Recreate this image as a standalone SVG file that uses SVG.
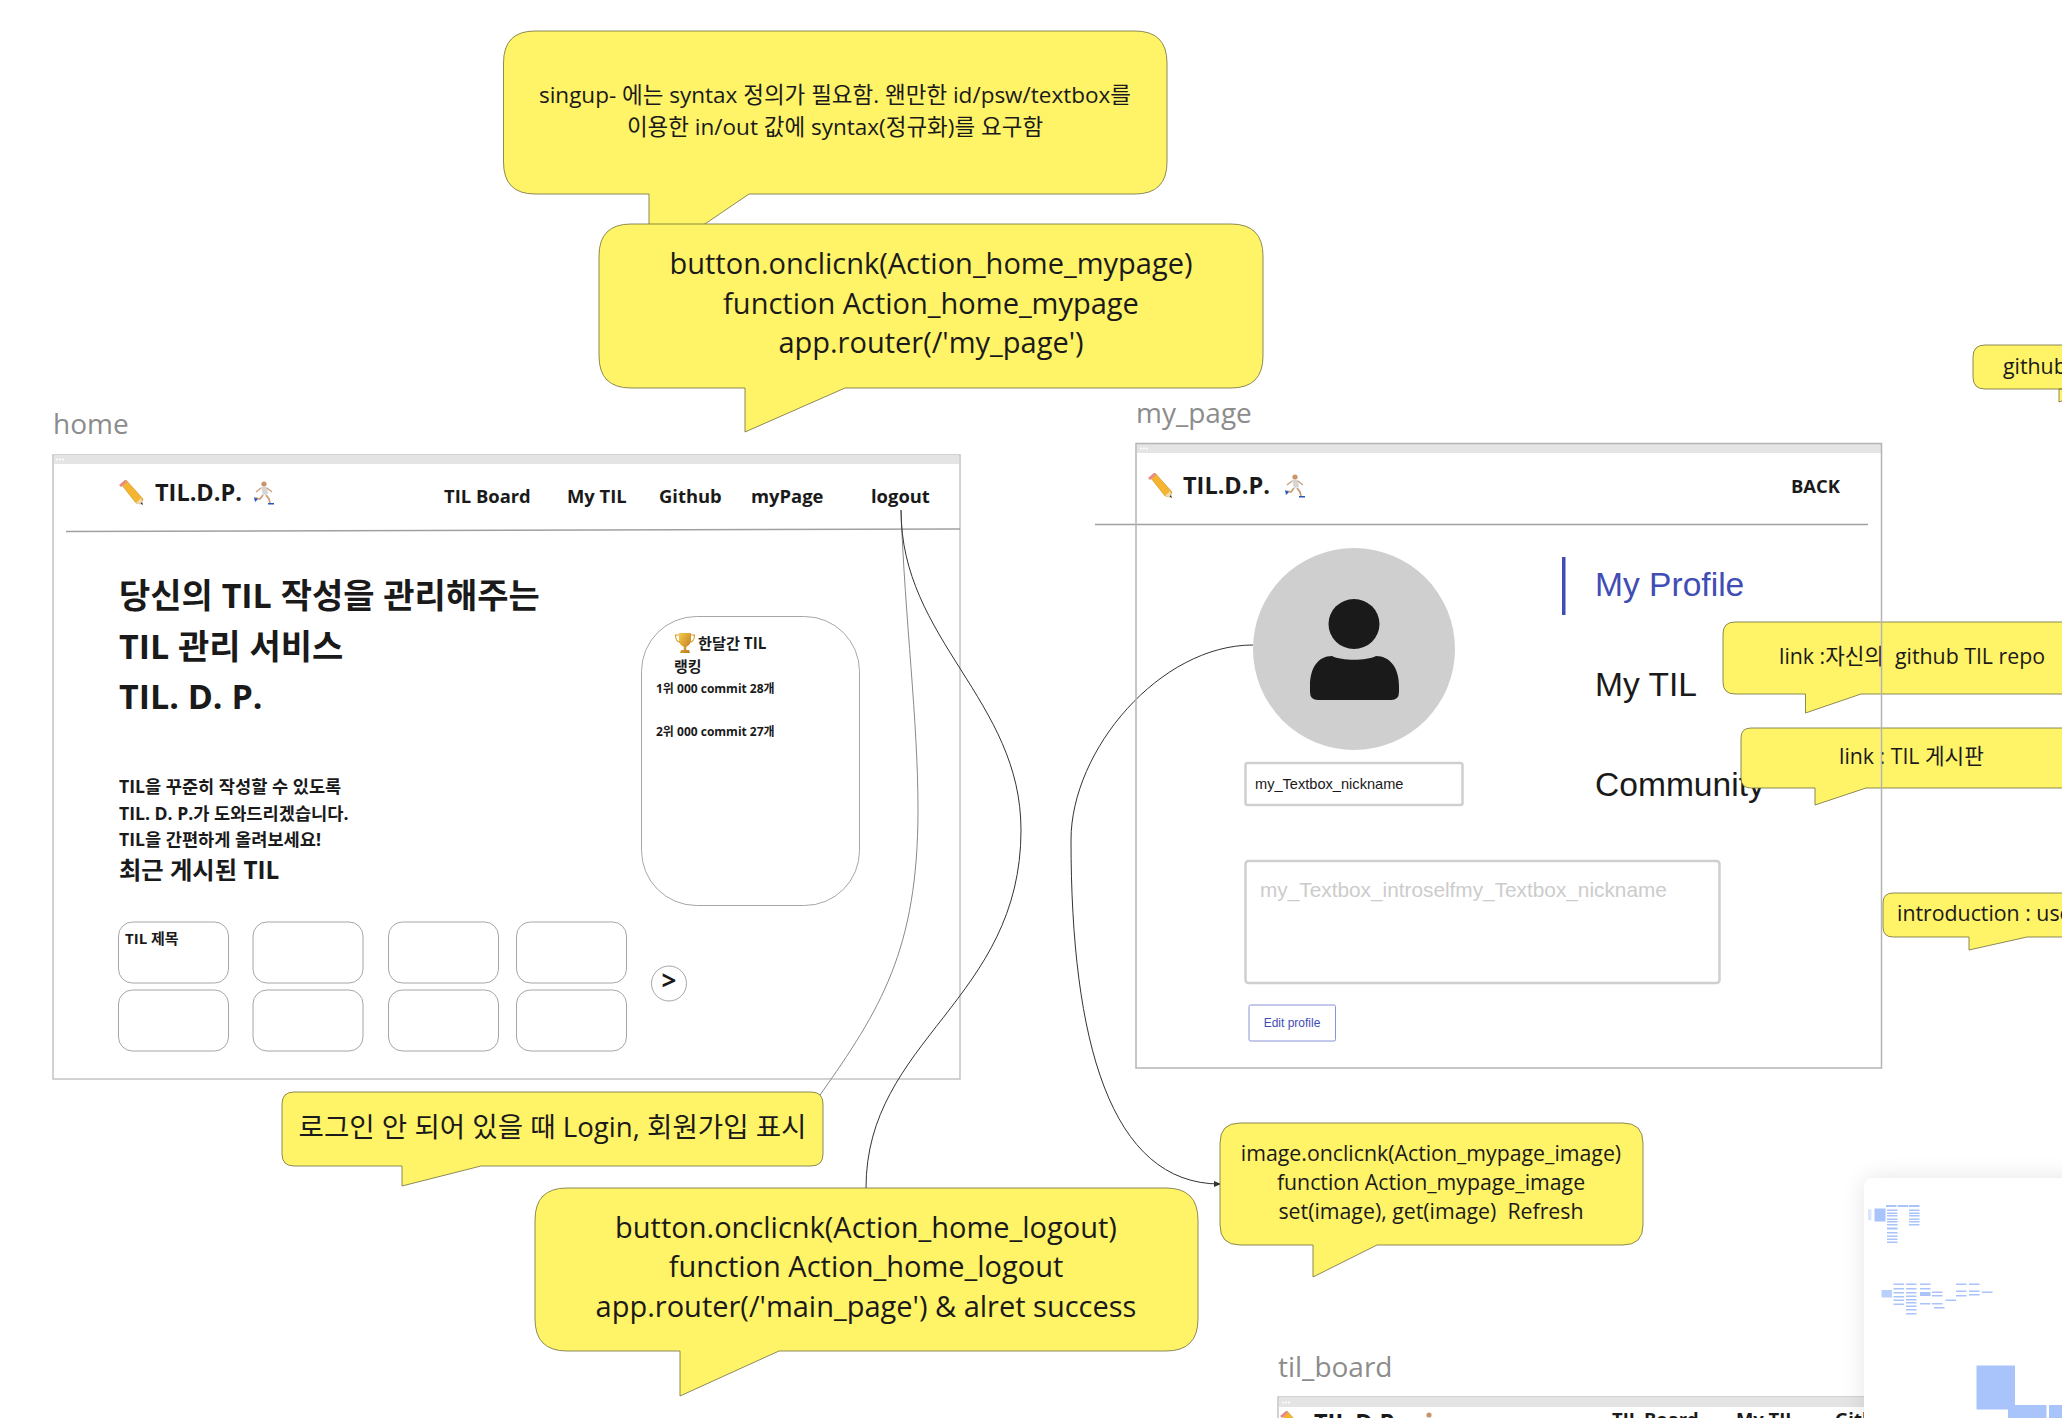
<svg xmlns="http://www.w3.org/2000/svg" width="2062" height="1418" viewBox="0 0 2062 1418">
<style>
text{font-family:"Open Sans","Noto Sans CJK KR",sans-serif;fill:#1a1a1a}
.lab{font-size:28px;fill:#8c8c8c}
.frame{fill:#fff;stroke:#c4c4c4;stroke-width:1.5}
.edge{fill:none;stroke:#b4b4b4;stroke-width:1.5}
.bar{fill:#e4e4e4}
.dot{fill:#fff}
.hl{stroke:#a0a0a0;stroke-width:1.5}
.logo{font-size:23.5px;font-weight:700}
.nav{font-size:18.4px;font-weight:700}
.card{fill:#fff;stroke:#8f8f8f;stroke-width:.8}
.call{fill:#fff368;stroke:#6f6d3c;stroke-width:.8}
.c30{font-size:29px;text-anchor:middle}
.c23{font-size:22.500px;text-anchor:middle}
.c22{font-size:21.300px}
.sub{font-size:17.600px;font-weight:700}
.h1{font-size:34px;font-weight:700}
.rk{font-size:12px;font-weight:700}
.arial{font-family:"Liberation Sans","Noto Sans CJK KR",sans-serif}
.menu{font-size:33.600px;font-family:"Liberation Sans",sans-serif}
.input{fill:#fff;stroke:#cfcfcf;stroke-width:2.500}
.conn{fill:none;stroke:#333;stroke-width:1}
.conn2{fill:none;stroke:#8a8a8a;stroke-width:1}
.m{fill:#a9c4fb}
.mb{fill:#d9e5fd}
</style>
<defs>
<marker id="arr" markerWidth="7" markerHeight="6" refX="6" refY="3" orient="auto" markerUnits="userSpaceOnUse"><path d="M0 0L7 3L0 6z" fill="#333"/></marker>
<filter id="sh" x="-20%" y="-20%" width="140%" height="140%"><feGaussianBlur stdDeviation="12"/></filter>
<linearGradient id="gold" x1="0" y1="0" x2="1" y2="1"><stop offset="0" stop-color="#f7c948"/><stop offset="1" stop-color="#b8741a"/></linearGradient>
<g id="pencil">
<path d="M3 4L8 0L25 19L23 24L18 23z" fill="#f5b52e" stroke="#b5851d" stroke-width=".5"/>
<path d="M1 5L7 0L9 2L3 7z" fill="#e88a8a"/>
<path d="M18 23L23 18L25 25z" fill="#f1d9b0"/>
<path d="M22.5 23.5L24 22L25 25z" fill="#333"/>
</g>
<g id="runner">
<circle cx="11" cy="3" r="2.6" fill="#c9956b"/>
<path d="M8 6L14 6L15 13L10 14z" fill="#d5d5d5"/>
<path d="M10 14L7 18L3 17M13 14L16 18L17 22" fill="none" stroke="#c9a07e" stroke-width="1.8"/>
<path d="M8 7L3 11M14 7L19 11" fill="none" stroke="#c9a07e" stroke-width="1.4"/>
<path d="M1 16L5 18L2 21zM15 22H21V23.5H15z" fill="#2b55b8"/>
</g>
<g id="trophy">
<path d="M4 0H16V7C16 12 12 13 11.2 14V17H14L15 20H5L6 17H8.800V14C8 13 4 12 4 7z" fill="url(#gold)"/>
<path d="M4 2H0.500C0.500 7 3 9 5 9M16 2H19.500C19.500 7 17 9 15 9" fill="none" stroke="#d69a2a" stroke-width="1.200"/>
</g>
</defs>

<rect width="2062" height="1418" fill="#fff"/>

<g id="label-home"><text class="lab" x="53" y="434">home</text></g>
<g id="label-my_page"><text class="lab" x="1136" y="423">my_page</text></g>
<g id="label-til_board"><text class="lab" x="1278" y="1377">til_board</text></g>

<g id="home">
<rect class="frame" x="53" y="455" width="907" height="624"/>
<rect class="bar" x="54" y="455" width="905" height="9"/>
<circle class="dot" cx="57" cy="459.500" r="1"/><circle class="dot" cx="60" cy="459.500" r="1"/><circle class="dot" cx="63" cy="459.500" r="1"/>
<path class="hl" d="M66 531.500L960 529"/>
<use href="#pencil" x="118" y="480"/>
<text class="logo" x="155" y="501">TIL.D.P.</text>
<use href="#runner" x="253" y="481"/>
<text class="nav" x="444" y="503">TIL Board</text>
<text class="nav" x="567" y="503">My TIL</text>
<text class="nav" x="659" y="503">Github</text>
<text class="nav" x="751" y="503">myPage</text>
<text class="nav" x="871" y="503">logout</text>
<text class="h1" x="119" y="608">당신의 TIL 작성을 관리해주는</text>
<text class="h1" x="119" y="659">TIL 관리 서비스</text>
<text class="h1" x="119" y="709">TIL. D. P.</text>
<text class="sub" x="119" y="793">TIL을 꾸준히 작성할 수 있도록</text>
<text class="sub" x="119" y="819.500">TIL. D. P.가 도와드리겠습니다.</text>
<text class="sub" x="119" y="846">TIL을 간편하게 올려보세요!</text>
<text x="119" y="879" font-size="24.300" font-weight="700">최근 게시된 TIL</text>
<rect class="card" x="641.500" y="616.500" width="218" height="289" rx="55"/>
<use href="#trophy" x="675" y="633"/>
<text x="698" y="649" font-size="15.200" font-weight="700">한달간 TIL</text>
<text x="674" y="672" font-size="15" font-weight="700">랭킹</text>
<text class="rk" x="656" y="693">1위 000 commit 28개</text>
<text class="rk" x="656" y="736">2위 000 commit 27개</text>
<rect class="card" x="118.500" y="922" width="110" height="61" rx="14"/>
<rect class="card" x="253" y="922" width="110" height="61" rx="14"/>
<rect class="card" x="388.500" y="922" width="110" height="61" rx="14"/>
<rect class="card" x="516.500" y="922" width="110" height="61" rx="14"/>
<rect class="card" x="118.500" y="990" width="110" height="61" rx="14"/>
<rect class="card" x="253" y="990" width="110" height="61" rx="14"/>
<rect class="card" x="388.500" y="990" width="110" height="61" rx="14"/>
<rect class="card" x="516.500" y="990" width="110" height="61" rx="14"/>
<text x="125" y="943.500" font-size="15" font-weight="700">TIL 제목</text>
<circle class="card" cx="669" cy="983.500" r="17.500"/>
<text x="669" y="990" font-size="26" font-weight="700" text-anchor="middle">&gt;</text>
</g>

<g id="my_page">
<rect x="1136" y="443" width="745.500" height="625" fill="#fff"/>
<rect class="bar" x="1137" y="443" width="744" height="10"/>
<circle class="dot" cx="1141" cy="448.500" r="1"/><circle class="dot" cx="1144" cy="448.500" r="1"/><circle class="dot" cx="1147" cy="448.500" r="1"/>
<use href="#pencil" x="1147" y="473"/>
<text class="logo" x="1183" y="494">TIL.D.P.</text>
<use href="#runner" x="1284" y="474"/>
<text class="nav" x="1791" y="493">BACK</text>
<circle cx="1354" cy="649" r="101" fill="#cfcfcf"/>
<ellipse cx="1354" cy="624" rx="25.500" ry="25" fill="#1a1a1a"/>
<path d="M1310 686C1310 668 1318 656 1332 656C1342 661 1366 661 1376 656C1390 656 1399 668 1399 686V692Q1399 700 1391 700H1318Q1310 700 1310 692z" fill="#1a1a1a"/>
<rect class="input" x="1245.500" y="763" width="217" height="42" rx="2"/>
<text class="arial" x="1255" y="789" font-size="14.600">my_Textbox_nickname</text>
<rect x="1562" y="557" width="3.500" height="58" fill="#3f4db5"/>
<text class="menu" x="1595" y="596" style="fill:#3f4db5">My Profile</text>
<text class="menu" x="1595" y="696">My TIL</text>
<text class="menu" x="1595" y="796">Community</text>
<rect class="input" x="1245.500" y="861" width="474" height="122" rx="3"/>
<text class="arial" x="1260" y="897" font-size="20.800" style="fill:#cccccc">my_Textbox_introselfmy_Textbox_nickname</text>
<rect x="1249" y="1005" width="86.500" height="36" rx="1.500" fill="#fff" stroke="#8a92d8" stroke-width="1"/>
<text class="arial" x="1292" y="1027" font-size="12" text-anchor="middle" style="fill:#3f4db5">Edit profile</text>
</g>

<g id="til_board">
<rect class="frame" x="1278" y="1397" width="640" height="60"/>
<rect class="bar" x="1279" y="1397" width="640" height="10"/>
<circle class="dot" cx="1283" cy="1402.500" r="1"/><circle class="dot" cx="1286" cy="1402.500" r="1"/><circle class="dot" cx="1289" cy="1402.500" r="1"/>
<use href="#pencil" x="1279" y="1411"/>
<text class="logo" x="1314" y="1431">TIL.D.P.</text>
<use href="#runner" x="1418" y="1412"/>
<text class="nav" x="1612" y="1426">TIL Board</text>
<text class="nav" x="1736" y="1426">My TIL</text>
<text class="nav" x="1835" y="1426">Github</text>
</g>

<g id="connectors">
<path class="conn2" d="M901 510C905 620 918 720 918 810C918 950 880 1010 820 1095"/>
<path class="conn" d="M901 510C901 640 1021 700 1021 830C1021 1000 866 1040 866 1188"/>
<path class="conn" marker-end="url(#arr)" d="M1253 645C1160 645 1071 750 1071 840C1071 1040 1110 1184 1220 1184"/>
<path class="hl" d="M1095 524.500H1868"/>
</g>

<g id="note-signup">
<path class="call" d="M535 31H1135Q1167 31 1167 63V162Q1167 194 1135 194H749L649 262V194H535Q503.500 194 503.500 162V63Q503.500 31 535 31z"/>
<text class="c23" x="835" y="103">singup- 에는 syntax 정의가 필요함. 왠만한 id/psw/textbox를</text>
<text class="c23" x="835" y="135">이용한 in/out 값에 syntax(정규화)를 요구함</text>
</g>
<g id="note-mypage">
<path class="call" d="M631 224H1231Q1263 224 1263 256V356Q1263 388 1231 388H845L745 432V388H631Q599 388 599 356V256Q599 224 631 224z"/>
<text class="c30" x="931" y="274">button.onclicnk(Action_home_mypage)</text>
<text class="c30" x="931" y="314">function Action_home_mypage</text>
<text class="c30" x="931" y="353">app.router(/'my_page')</text>
</g>
<g id="note-login">
<path class="call" d="M294 1092H811Q823 1092 823 1104V1154Q823 1166 811 1166H481L402 1186V1166H294Q282 1166 282 1154V1104Q282 1092 294 1092z"/>
<text x="552.500" y="1137" font-size="27.600" text-anchor="middle">로그인 안 되어 있을 때 Login, 회원가입 표시</text>
</g>
<g id="note-logout">
<path class="call" d="M567 1188H1166Q1198 1188 1198 1220V1319Q1198 1351 1166 1351H779L680 1396V1351H567Q535 1351 535 1319V1220Q535 1188 567 1188z"/>
<text class="c30" x="866" y="1238">button.onclicnk(Action_home_logout)</text>
<text class="c30" x="866" y="1277">function Action_home_logout</text>
<text class="c30" x="866" y="1317">app.router(/'main_page') &amp; alret success</text>
</g>
<g id="note-image">
<path class="call" d="M1240 1123H1623Q1643 1123 1643 1143V1225Q1643 1245 1623 1245H1377L1313 1277V1245H1240Q1220 1245 1220 1225V1143Q1220 1123 1240 1123z"/>
<text class="c22" text-anchor="middle" x="1431" y="1161">image.onclicnk(Action_mypage_image)</text>
<text class="c22" text-anchor="middle" x="1431" y="1190">function Action_mypage_image</text>
<text class="c22" text-anchor="middle" x="1431" y="1219" xml:space="preserve">set(image), get(image)  Refresh</text>
</g>
<g id="note-github">
<path class="call" d="M1985 345H2075V389H2059V402L2075 396V389H1985Q1973 389 1973 377V357Q1973 345 1985 345z"/>
<text class="c22" x="2003" y="374">github</text>
</g>
<g id="note-repo">
<path class="call" d="M1735 622H2075V694H1861L1805.500 713V694H1735Q1723 694 1723 682V634Q1723 622 1735 622z"/>
<text class="c22" x="1779" y="664" xml:space="preserve">link :자신의  github TIL repo</text>
</g>
<g id="note-til">
<path class="call" d="M1751 728H2075V788H1866L1815 805V788H1751Q1741 788 1741 778V738Q1741 728 1751 728z"/>
<text class="c22" x="1839" y="764">link : TIL 게시판</text>
</g>
<g id="note-intro">
<path class="call" d="M1893 893H2075V937H2027L1969 950V937H1893Q1883 937 1883 927V903Q1883 893 1893 893z"/>
<text class="c22" x="1897" y="921">introduction : use</text>
</g>

<g id="my_page-border">
<rect class="edge" x="1136" y="443.500" width="745.500" height="624.500"/>
</g>

<g id="minimap">
<rect x="1864" y="1178" width="240" height="280" rx="10" fill="#000" opacity=".1" filter="url(#sh)"/>
<rect x="1864" y="1178" width="240" height="280" rx="8" fill="#fff"/>
<rect class="mb" x="1868" y="1209.300" width="3.500" height="11"/>
<rect class="m" x="1874.500" y="1208.500" width="11" height="13"/>
<rect class="m" x="1886" y="1205" width="10.500" height="2"/><rect class="m" x="1897.700" y="1205" width="10.500" height="2"/><rect class="m" x="1909" y="1205" width="10.500" height="2"/>
<g transform="translate(1887 0)">
<rect class="m" y="1209.500" width="10.500" height="1.500"/><rect class="m" y="1212.500" width="10.500" height="1.500"/><rect class="m" y="1215" width="10.500" height="1.500"/><rect class="m" y="1218.500" width="10.500" height="1.500"/><rect class="m" y="1221" width="10.500" height="1.500"/><rect class="m" y="1224" width="10.500" height="1.500"/><rect class="m" y="1227.500" width="10.500" height="2"/><rect class="m" y="1232" width="10.500" height="1.500"/><rect class="m" y="1235.500" width="10.500" height="1.500"/><rect class="m" y="1238.500" width="10.500" height="1.500"/><rect class="m" y="1241.500" width="10.500" height="1.500"/>
</g>
<g transform="translate(1909 0)">
<rect class="m" y="1209.500" width="10.500" height="1.500"/><rect class="m" y="1212.500" width="10.500" height="1.500"/><rect class="m" y="1215" width="10.500" height="1.500"/><rect class="m" y="1218.500" width="10.500" height="1.500"/><rect class="m" y="1221" width="10.500" height="1.500"/><rect class="m" y="1224" width="10.500" height="1.500"/>
</g>
<rect class="m" x="1881.500" y="1290" width="10.500" height="7.500" opacity=".8"/>
<g transform="translate(1893.500 0)">
<rect class="m" y="1283.500" width="10.500" height="1.500"/><rect class="m" y="1288" width="10.500" height="1.500"/><rect class="m" y="1292" width="10.500" height="1.500"/><rect class="m" y="1296" width="10.500" height="1.500"/><rect class="m" y="1299.500" width="10.500" height="1.500"/><rect class="m" y="1303.500" width="10.500" height="1.500"/>
</g>
<g transform="translate(1906 0)">
<rect class="m" y="1283.500" width="10.500" height="1.500"/><rect class="m" y="1288" width="10.500" height="1.500"/><rect class="m" y="1292" width="10.500" height="1.500"/><rect class="m" y="1295.500" width="10.500" height="1.500"/><rect class="m" y="1299" width="10.500" height="1.500"/><rect class="m" y="1302" width="10.500" height="1.500"/><rect class="m" y="1305.500" width="10.500" height="1.500"/><rect class="m" y="1309" width="10.500" height="1.500"/><rect class="m" y="1313" width="10.500" height="1.500"/>
</g>
<g transform="translate(1920 0)">
<rect class="m" y="1283.500" width="10.500" height="1.500"/><rect class="m" y="1288" width="10.500" height="1.500"/><rect class="m" y="1292" width="10.500" height="4"/><rect class="m" y="1303" width="10.500" height="1.500"/>
</g>
<rect class="m" x="1932" y="1291.500" width="10.500" height="1.500"/><rect class="m" x="1932" y="1295" width="10.500" height="1.500"/><rect class="m" x="1932" y="1303" width="10.500" height="1.500"/>
<rect class="m" x="1934" y="1307" width="10.500" height="1.500"/>
<rect class="m" x="1945.500" y="1299.500" width="10.500" height="1.500"/>
<rect class="m" x="1956" y="1283.500" width="10.500" height="1.500"/><rect class="m" x="1956" y="1290.500" width="10.500" height="1.500"/><rect class="m" x="1956" y="1295" width="10.500" height="1.500"/>
<rect class="m" x="1969" y="1283.500" width="10.500" height="1.500"/><rect class="m" x="1969" y="1290.500" width="10.500" height="1.500"/><rect class="m" x="1969" y="1294" width="10.500" height="1.500"/>
<rect class="m" x="1982" y="1291.500" width="10.500" height="1.500"/>
<rect class="m" x="1976.500" y="1365.500" width="38.500" height="44"/>
<rect class="m" x="2008" y="1405" width="38.500" height="20"/>
<rect class="m" x="2049" y="1405" width="20" height="20"/>
</g>
</svg>
